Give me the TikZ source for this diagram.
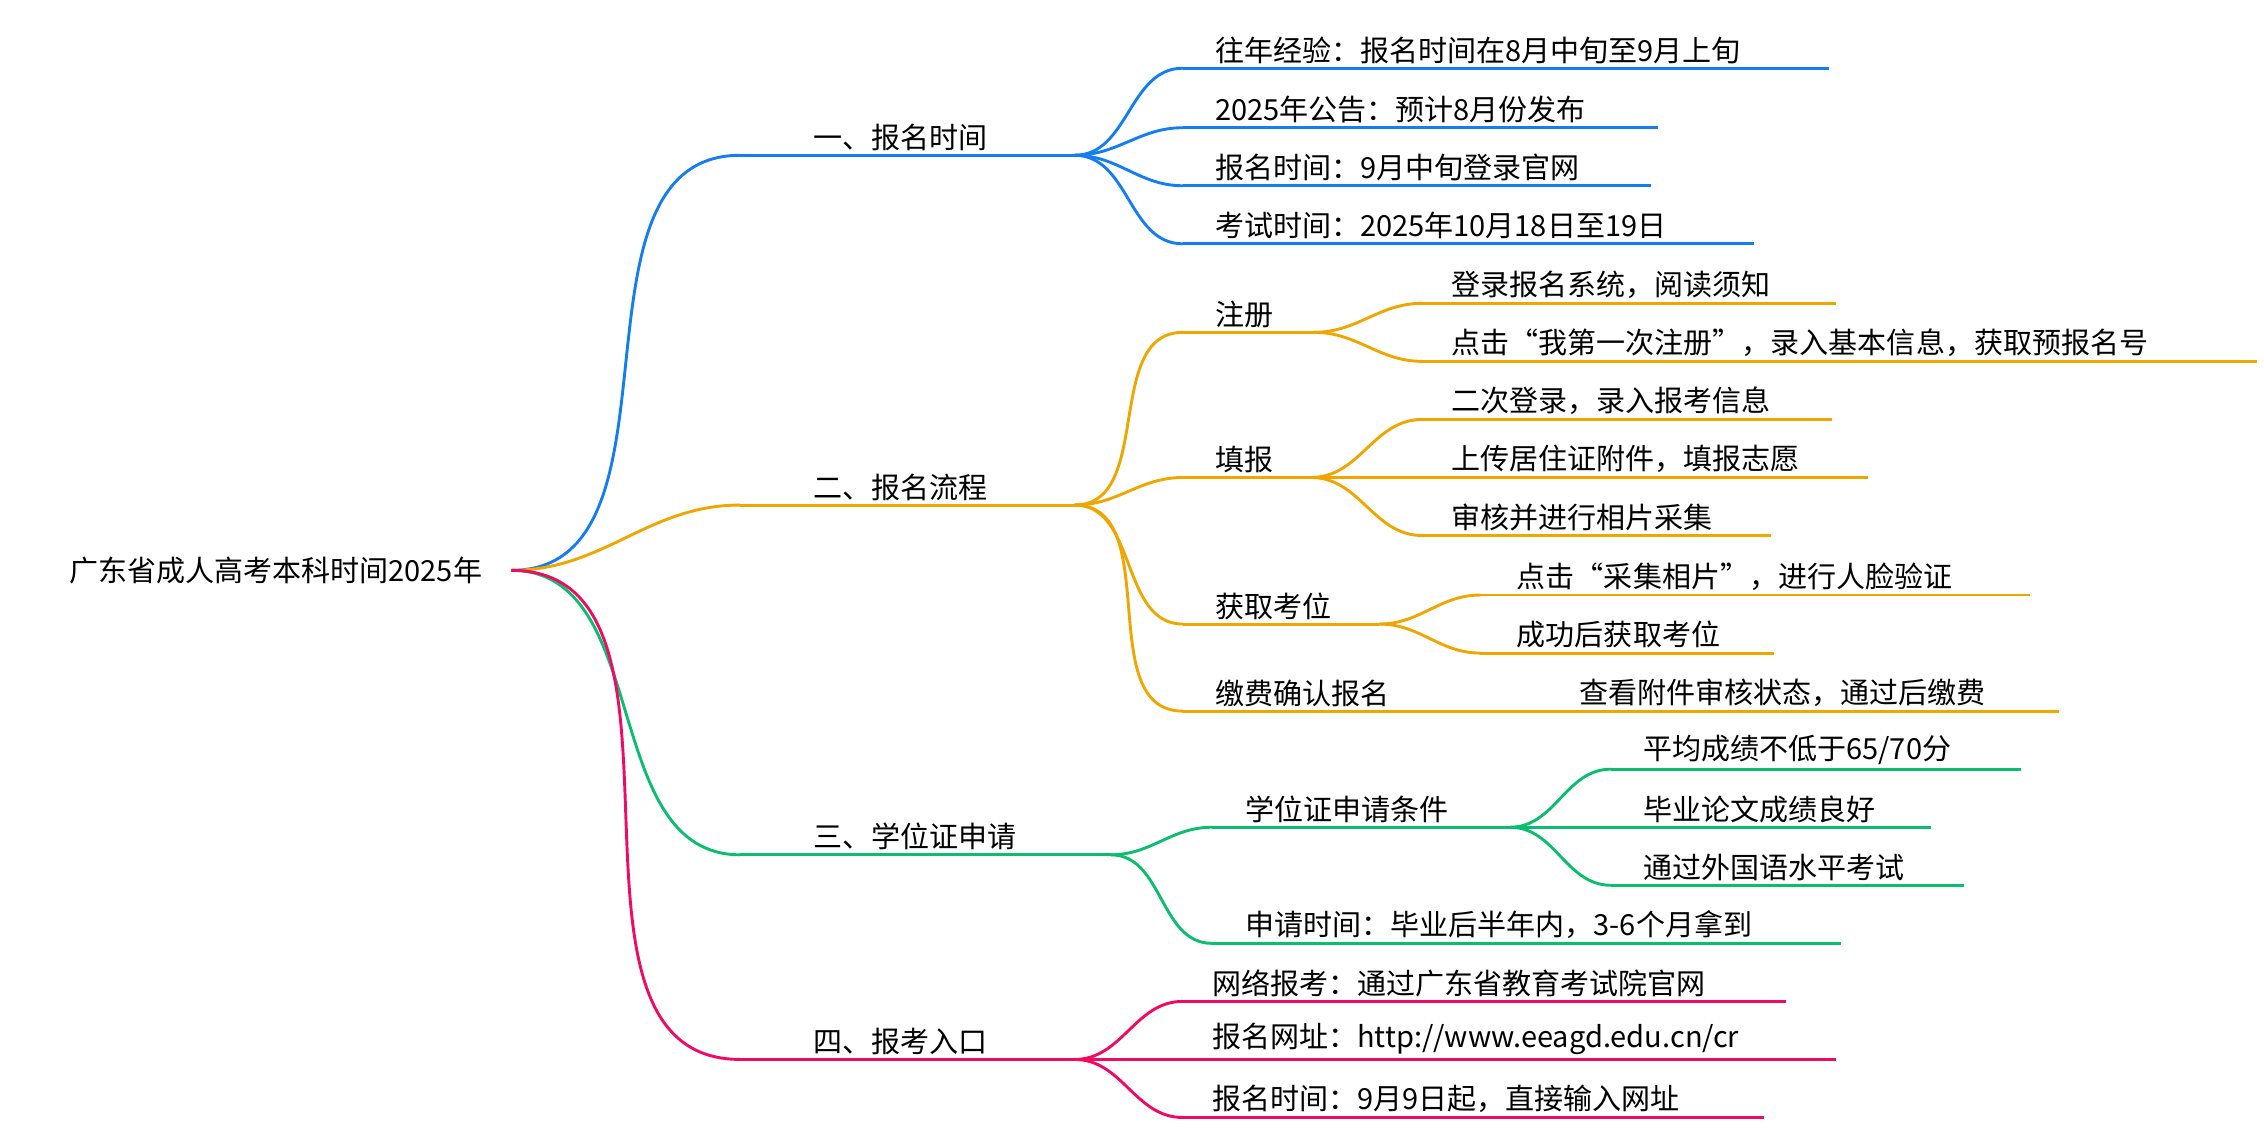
\documentclass[tikz,border=0pt]{standalone}
\usepackage{fontspec}
\setmainfont{Noto Sans CJK SC}
\usepackage{tikz}

\definecolor{cblue}{RGB}{20,125,240}
\definecolor{corange}{RGB}{240,165,0}
\definecolor{cgreen}{RGB}{10,190,110}
\definecolor{cpink}{RGB}{240,10,100}

\tikzset{
  item/.style={anchor=south west, inner xsep=0pt, inner ysep=3pt, align=left,
               font=\fontsize{20}{24}\selectfont},
  uline/.style={line width=2pt},
  link/.style={line width=2pt, out=0, in=180}
}

\begin{document}
\begin{tikzpicture}[x=1pt, y=-1pt]
  \useasboundingbox (0,0) rectangle (1560,781);

  % Root
  \node[font=\fontsize{20}{24}\selectfont, inner xsep=20pt] (root) at (190,393) {广东省成人高考本科时间2025年};

  % Level one
  \node[item, text width=230pt] (time) at (510,107) {\hspace{50pt}一、报名时间};
  \node[item, text width=230pt] (flow) at (510,348) {\hspace{50pt}二、报名流程};
  \node[item, text width=255pt] (degree) at (510,589) {\hspace{50pt}三、学位证申请};
  \node[item, text width=230pt] (entry) at (510,730) {\hspace{50pt}四、报考入口};

  % Time children
  \node[item, text width=445pt] (t1) at (815,47) {\hspace{22pt}往年经验：报名时间在8月中旬至9月上旬};
  \node[item, text width=327pt] (t2) at (815,88) {\hspace{22pt}2025年公告：预计8月份发布};
  \node[item, text width=322pt] (t3) at (815,128) {\hspace{22pt}报名时间：9月中旬登录官网};
  \node[item, text width=393pt] (t4) at (815,168) {\hspace{22pt}考试时间：2025年10月18日至19日};

  % Flow children
  \node[item, text width=90pt] (reg) at (815,229) {\hspace{22pt}注册};
  \node[item, text width=285pt] (reg1) at (980,209) {\hspace{20pt}登录报名系统，阅读须知};
  \node[item, text width=575pt] (reg2) at (980,249) {\hspace{20pt}点击“我第一次注册”，录入基本信息，获取预报名号};
  \node[item, text width=88pt] (fill) at (815,329) {\hspace{22pt}填报};
  \node[item, text width=282pt] (fill1) at (980,289) {\hspace{20pt}二次登录，录入报考信息};
  \node[item, text width=307pt] (fill2) at (980,329) {\hspace{20pt}上传居住证附件，填报志愿};
  \node[item, text width=240pt] (fill3) at (980,369) {\hspace{20pt}审核并进行相片采集};
  \node[item, text width=135pt] (seat) at (815,430) {\hspace{22pt}获取考位};
  \node[item, text width=378pt] (seat1) at (1020,410) {\hspace{25pt}点击“采集相片”，进行人脸验证};
  \node[item, text width=202pt] (seat2) at (1020,450) {\hspace{25pt}成功后获取考位};
  \node[item, text width=250pt] (pay) at (815,490) {\hspace{22pt}缴费确认报名};
  \node[item, text width=353pt] (pay1) at (1065,490) {\hspace{23pt}查看附件审核状态，通过后缴费};

  % Degree children
  \node[item, text width=205pt] (cond) at (835,570) {\hspace{23pt}学位证申请条件};
  \node[item, text width=282pt] (cond1) at (1110,530) {\hspace{22pt}平均成绩不低于65/70分};
  \node[item, text width=220pt] (cond2) at (1110,570) {\hspace{22pt}毕业论文成绩良好};
  \node[item, text width=243pt] (cond3) at (1110,610) {\hspace{22pt}通过外国语水平考试};
  \node[item, text width=433pt] (apply) at (835,650) {\hspace{23pt}申请时间：毕业后半年内，3-6个月拿到};

  % Entry children
  \node[item, text width=415pt] (e1) at (815,690) {\hspace{20pt}网络报考：通过广东省教育考试院官网};
  \node[item, text width=450pt] (e2) at (815,730) {\hspace{20pt}报名网址：http://www.eeagd.edu.cn/cr};
  \node[item, text width=400pt] (e3) at (815,770) {\hspace{20pt}报名时间：9月9日起，直接输入网址};

  % Underlines
  \foreach \n/\c in {time/cblue,t1/cblue,t2/cblue,t3/cblue,t4/cblue,
                     flow/corange,reg/corange,reg1/corange,reg2/corange,fill/corange,
                     fill1/corange,fill2/corange,fill3/corange,seat/corange,seat1/corange,
                     seat2/corange,pay/corange,pay1/corange,
                     degree/cgreen,cond/cgreen,cond1/cgreen,cond2/cgreen,cond3/cgreen,apply/cgreen,
                     entry/cpink,e1/cpink,e2/cpink,e3/cpink}
    \draw[uline, \c] (\n.south west) -- (\n.south east);

  % Connectors
  \draw[link, cblue] (root.east) to (time.south west);
  \draw[link, corange] (root.east) to (flow.south west);
  \draw[link, cgreen] (root.east) to (degree.south west);
  \draw[link, cpink] (root.east) to (entry.south west);

  \foreach \n in {t1,t2,t3,t4}
    \draw[link, cblue] (time.south east) to (\n.south west);
  \foreach \n in {reg,fill,seat,pay}
    \draw[link, corange] (flow.south east) to (\n.south west);
  \foreach \n in {reg1,reg2}
    \draw[link, corange] (reg.south east) to (\n.south west);
  \foreach \n in {fill1,fill2,fill3}
    \draw[link, corange] (fill.south east) to (\n.south west);
  \foreach \n in {seat1,seat2}
    \draw[link, corange] (seat.south east) to (\n.south west);
  \draw[link, corange] (pay.south east) to (pay1.south west);
  \foreach \n in {cond,apply}
    \draw[link, cgreen] (degree.south east) to (\n.south west);
  \foreach \n in {cond1,cond2,cond3}
    \draw[link, cgreen] (cond.south east) to (\n.south west);
  \foreach \n in {e1,e2,e3}
    \draw[link, cpink] (entry.south east) to (\n.south west);

\end{tikzpicture}
\end{document}
